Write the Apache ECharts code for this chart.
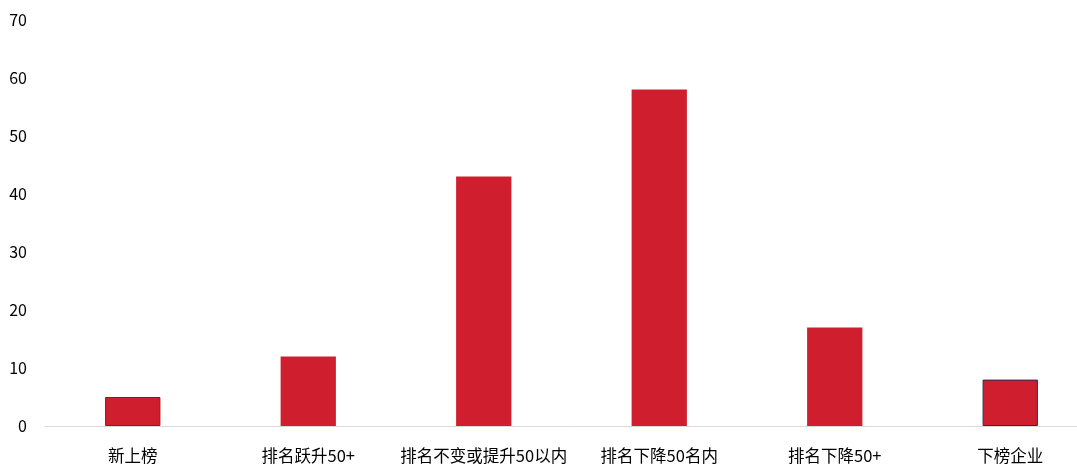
<!DOCTYPE html>
<html><head><meta charset="utf-8">
<script src="https://cdn.jsdelivr.net/npm/echarts@6/dist/echarts.min.js"></script>
<style>html,body{margin:0;padding:0;background:#fff;overflow:hidden;width:1077px;height:473px}#c{width:1098px;height:473px}</style>
</head><body><div id="c"></div>
<script>
const categories = ['新上榜','排名跃升50+','排名不变或提升50以内','排名下降50名内','排名下降50+','下榜企业'];
const values = [5, 12, 43, 58, 17, 8];
const yTicks = [0, 10, 20, 30, 40, 50, 60, 70];
const font = '"Noto Sans CJK SC", "Noto Sans", sans-serif';
const chart = echarts.init(document.getElementById('c'));
chart.setOption({
  animation: false,
  grid: {left: 45, right: 0, top: 20, bottom: 47, outerBoundsMode: 'none'},
  xAxis: {
    type: 'category', data: categories,
    axisLine: {lineStyle: {color: '#d9d9d9', width: 1}},
    axisTick: {show: false},
    axisLabel: {color: '#000', fontSize: 16.5, fontFamily: font, margin: 21, interval: 0}
  },
  yAxis: {
    type: 'value', min: yTicks[0], max: yTicks[yTicks.length-1], interval: 10,
    axisLine: {show: false}, axisTick: {show: false}, splitLine: {show: false},
    axisLabel: {color: '#000', fontSize: 16, fontFamily: font, margin: 18}
  },
  series: [{
    type: 'bar', barWidth: '31.5%',
    data: values.map((v, i) => ({
      value: v,
      itemStyle: i === values.length - 1 ? {color: '#CF1F2E', borderColor: '#1F2E5C', borderWidth: 1}
        : i === 0 ? {color: '#CF1F2E', borderColor: '#C00000', borderWidth: 1} : {color: '#CF1F2E'}
    }))
  }]
});
</script></body></html>
